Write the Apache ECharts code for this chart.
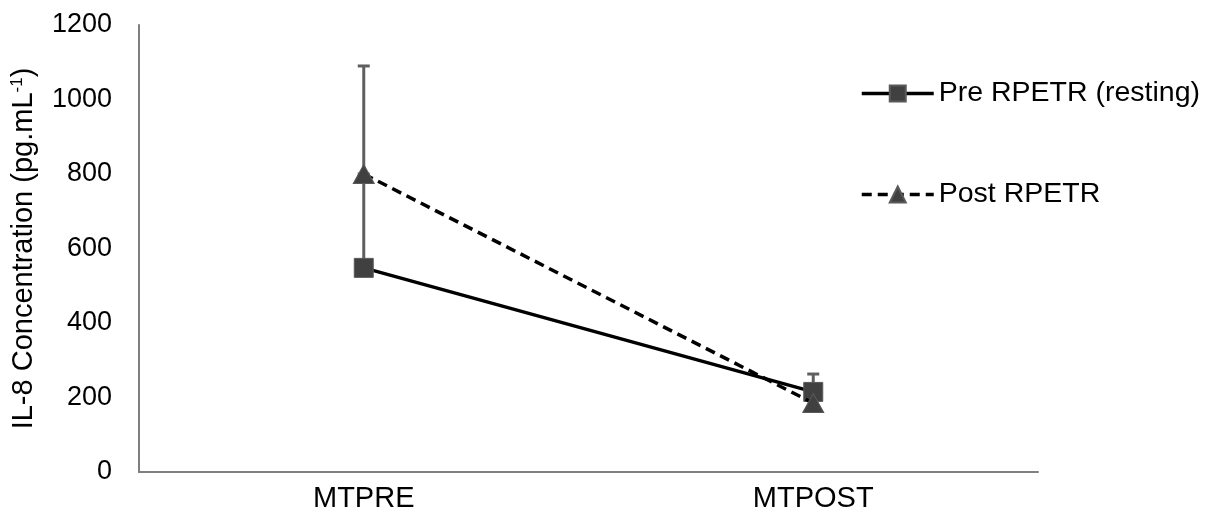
<!DOCTYPE html>
<html>
<head>
<meta charset="utf-8">
<script src="https://cdn.jsdelivr.net/npm/echarts@6/dist/echarts.min.js"></script>
<style>
  html, body { margin: 0; padding: 0; background: #fff; }
  #chart { width: 1215px; height: 522px; }
</style>
</head>
<body>
<div id="chart"></div>
<script>
// Time points and IL-8 means
const categories = ['MTPRE', 'MTPOST'];
const preValues = [548, 215];
const postValues = [800, 185];
// Upper error (SD) added to each mean
const preErrUp = [252, 48];
const postErrUp = [290, 0];
const yTicks = { min: 0, max: 1200, interval: 200 };

const FONT = '"Liberation Sans", Arial, sans-serif';

function errorData(values, errs) {
  const out = [];
  values.forEach((v, i) => {
    if (errs[i] > 0) out.push([i, v, v + errs[i]]);
  });
  return out;
}

function errorBarSeries(values, errs) {
  return {
    type: 'custom',
    z: 1,
    silent: true,
    data: errorData(values, errs),
    renderItem: function (params, api) {
      const lo = api.coord([api.value(0), api.value(1)]);
      const hi = api.coord([api.value(0), api.value(2)]);
      const half = 6;
      const style = { stroke: '#5f5f5f', lineWidth: 3 };
      return {
        type: 'group',
        children: [
          { type: 'line', shape: { x1: lo[0], y1: lo[1], x2: hi[0], y2: hi[1] }, style: style },
          { type: 'line', shape: { x1: hi[0] - half, y1: hi[1], x2: hi[0] + half, y2: hi[1] }, style: style }
        ]
      };
    }
  };
}

const chart = echarts.init(document.getElementById('chart'), null, { renderer: 'canvas' });

chart.setOption({
  animation: false,
  backgroundColor: '#ffffff',
  textStyle: { fontFamily: FONT },
  grid: { left: 139, right: 177, top: 25, bottom: 50, containLabel: false },
  legend: {
    orient: 'vertical',
    left: 855,
    top: 74,
    itemGap: 72,
    itemWidth: 72,
    itemHeight: 20,
    itemTextGap: 6,
    lineStyle: { width: 3.5 },
    textStyle: { fontFamily: FONT, fontSize: 28.5, color: '#000' },
    data: ['Pre RPETR (resting)', 'Post RPETR']
  },
  xAxis: {
    type: 'category',
    data: categories,
    boundaryGap: true,
    axisLine: { lineStyle: { color: '#7f7f7f', width: 2 } },
    axisTick: { show: false },
    axisLabel: { fontFamily: FONT, fontSize: 29, color: '#000', margin: 12 },
    splitLine: { show: false }
  },
  yAxis: {
    type: 'value',
    min: yTicks.min,
    max: yTicks.max,
    interval: yTicks.interval,
    axisLine: { show: true, lineStyle: { color: '#7f7f7f', width: 2 } },
    axisTick: { show: false },
    splitLine: { show: false },
    axisLabel: {
      fontFamily: FONT, fontSize: 27, color: '#000', margin: 27,
      formatter: function (v) { return String(v); }
    },
    name: '{a|IL-8 Concentration (pg.mL}{s|-1}{a|)}',
    nameLocation: 'middle',
    nameGap: 100,
    nameRotate: 90,
    nameTextStyle: {
      rich: {
        a: { fontFamily: FONT, fontSize: 29, color: '#000' },
        s: { fontFamily: FONT, fontSize: 17, color: '#000', verticalAlign: 'top', padding: [0, 0, 13, 0] }
      }
    }
  },
  series: [
    errorBarSeries(preValues, preErrUp),
    errorBarSeries(postValues, postErrUp),
    {
      name: 'Pre RPETR (resting)',
      type: 'line',
      z: 3,
      data: preValues,
      symbol: 'rect',
      symbolSize: 19,
      lineStyle: { color: '#000', width: 3.5 },
      itemStyle: { color: '#404040', borderColor: '#595959', borderWidth: 1 }
    },
    {
      name: 'Post RPETR',
      type: 'line',
      z: 4,
      data: postValues,
      symbol: 'triangle',
      symbolSize: [21, 19],
      lineStyle: { color: '#000', width: 3.5, type: [10, 6] },
      itemStyle: { color: '#404040', borderColor: '#595959', borderWidth: 1 }
    }
  ]
});
</script>
</body>
</html>
